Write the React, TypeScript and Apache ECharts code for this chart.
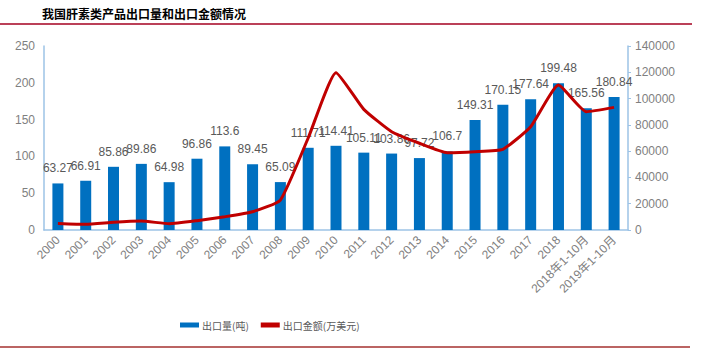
import React, { useEffect, useRef } from "react";
import * as echarts from "echarts";

const categories = [
  "2000", "2001", "2002", "2003", "2004", "2005", "2006", "2007", "2008", "2009",
  "2010", "2011", "2012", "2013", "2014", "2015", "2016", "2017", "2018",
  "2018年1-10月", "2019年1-10月",
];
const exportVolume = [
  63.27, 66.91, 85.86, 89.86, 64.98, 96.86, 113.6, 89.45, 65.09, 111.71,
  114.41, 105.11, 103.86, 97.72, 106.7, 149.31, 170.15, 177.64, 199.48,
  165.56, 180.84,
];
const exportValue = [
  5000, 4300, 5900, 6800, 4800, 7100, 10100, 13900, 22800, 70000,
  119700, 91800, 74800, 66000, 58800, 59600, 61400, 78600, 110300,
  90000, 93300,
];
const titleText = "我国肝素类产品出口量和出口金额情况";
const seriesNames = ["出口量(吨)", "出口金额(万美元)"];

export default function App() {
  const ref = useRef<HTMLDivElement>(null);
  useEffect(() => {
    if (!ref.current) return;
    const chart = echarts.init(ref.current, null, { renderer: "svg" });
    const gray = "#7f7f7f";
    const axisBlue = "#9dc3e6";
    chart.setOption({
      animation: false,
      textStyle: { fontFamily: "Arial, 'Liberation Sans', 'Noto Sans CJK SC', sans-serif" },
      graphic: [
        {
          type: "text",
          left: 42,
          top: 7,
          style: {
            text: titleText,
            fontSize: 12,
            fontWeight: "bold",
            fill: "#000",
            fontFamily: "'Noto Sans CJK SC', sans-serif",
          },
        },
        {
          type: "line",
          shape: { x1: 0, y1: 24, x2: 692, y2: 24 },
          style: { stroke: "#a50021", lineWidth: 1.5 },
        },
        {
          type: "line",
          shape: { x1: 0, y1: 347, x2: 690, y2: 347 },
          style: { stroke: "#a5302f", lineWidth: 1.5 },
        },
      ],
      legend: {
        left: 175,
        top: 315,
        itemGap: 12,
        itemWidth: 19,
        itemHeight: 5,
        textStyle: { color: "#595959", fontSize: 10, padding: [0, 0, 0, -2], fontFamily: "'Noto Sans CJK SC', sans-serif" },
        data: [
          { name: seriesNames[0], icon: "rect", itemStyle: { color: "#0070c0" } },
          { name: seriesNames[1], icon: "rect", itemStyle: { color: "#c00000" } },
        ],
      },
      grid: { left: 44, right: 73, top: 46, bottom: 124, containLabel: false },
      xAxis: {
        type: "category",
        data: categories,
        axisLine: { lineStyle: { color: axisBlue, width: 1.5 } },
        axisTick: { show: false },
        axisLabel: {
          interval: 0,
          rotate: 45,
          color: gray,
          fontSize: 12,
          margin: 8,
        },
      },
      yAxis: [
        {
          type: "value",
          min: 0,
          max: 250,
          interval: 50,
          axisLine: { show: true, lineStyle: { color: axisBlue, width: 1.5 } },
          axisTick: { show: false },
          splitLine: { show: false },
          axisLabel: { color: gray, fontSize: 12, margin: 9 },
        },
        {
          type: "value",
          min: 0,
          max: 140000,
          interval: 20000,
          position: "right",
          axisLine: { show: true, lineStyle: { color: axisBlue, width: 1.5 } },
          axisTick: { show: true, inside: false, length: 3, lineStyle: { color: axisBlue } },
          splitLine: { show: false },
          axisLabel: { color: gray, fontSize: 12, margin: 7, formatter: (v: number) => String(v) },
        },
      ],
      series: [
        {
          name: seriesNames[0],
          type: "bar",
          data: exportVolume,
          barWidth: 11,
          itemStyle: { color: "#0070c0" },
          label: {
            show: true,
            position: "top",
            distance: 9,
            color: "#595959",
            fontSize: 12,
          },
        },
        {
          name: seriesNames[1],
          type: "line",
          yAxisIndex: 1,
          data: exportValue,
          smooth: 0.15,
          showSymbol: false,
          symbol: "none",
          lineStyle: { color: "#c00000", width: 3 },
          itemStyle: { color: "#c00000" },
        },
      ],
    });
    return () => chart.dispose();
  }, []);
  return <div ref={ref} style={{ width: 701, height: 354, position: "absolute", left: 0, top: 0 }} />;
}
